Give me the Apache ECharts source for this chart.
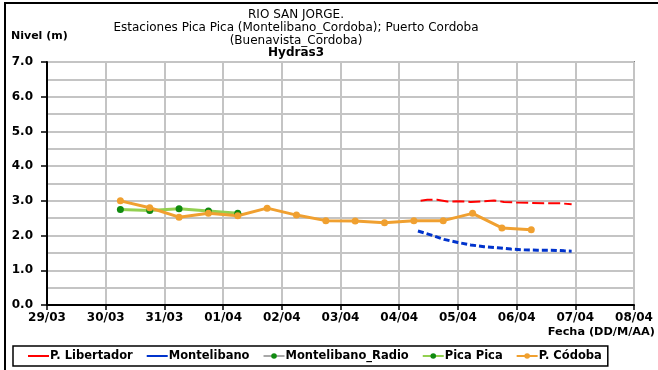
<!DOCTYPE html>
<html>
<head>
<meta charset="utf-8">
<script src="https://cdn.jsdelivr.net/npm/echarts@6/dist/echarts.min.js"></script>
<style>
  html, body { margin: 0; padding: 0; background: #fff; }
  #chart { width: 658px; height: 370px; }
</style>
</head>
<body>
<div id="chart"></div>
<script>
// Daily axis from 29/03 to 08/04
const axisStart = '2014-03-29 00:00';
const axisEnd = '2014-04-08 00:00';

// P. Libertador (red, dashed)
const libertadorTimes = ['2014-04-04 08:45', '2014-04-04 11:30', '2014-04-04 15:30', '2014-04-04 19:40',
  '2014-04-05 00:00', '2014-04-05 05:15', '2014-04-05 10:40', '2014-04-05 14:45', '2014-04-05 18:50',
  '2014-04-06 00:20', '2014-04-06 05:50', '2014-04-06 12:40', '2014-04-06 18:00', '2014-04-06 22:30'];
const libertadorLevels = [3.00, 3.03, 3.03, 2.98, 2.99, 2.97, 2.99, 3.01, 2.97, 2.95, 2.94, 2.93, 2.93, 2.90];

// Montelibano (blue, heavy dashes)
const montelibanoTimes = ['2014-04-04 07:40', '2014-04-04 12:50', '2014-04-04 18:20', '2014-04-05 00:00',
  '2014-04-05 05:15', '2014-04-05 10:40', '2014-04-05 16:10', '2014-04-05 21:40', '2014-04-06 03:00',
  '2014-04-06 08:30', '2014-04-06 14:00', '2014-04-06 19:30', '2014-04-06 22:30'];
const montelibanoLevels = [2.13, 2.02, 1.89, 1.80, 1.73, 1.68, 1.65, 1.61, 1.59, 1.58, 1.58, 1.56, 1.55];

// Montelibano_Radio (no readings in this period)
const radioTimes = [];
const radioLevels = [];

// Pica Pica
const picaTimes = ['2014-03-30 06:00', '2014-03-30 18:00', '2014-03-31 06:00', '2014-03-31 18:00', '2014-04-01 06:00'];
const picaLevels = [2.75, 2.72, 2.77, 2.71, 2.64];

// P. Córdoba
const cordobaTimes = ['2014-03-30 06:00', '2014-03-30 18:00', '2014-03-31 06:00', '2014-03-31 18:00',
  '2014-04-01 06:00', '2014-04-01 18:00', '2014-04-02 06:00', '2014-04-02 18:00', '2014-04-03 06:00',
  '2014-04-03 18:00', '2014-04-04 06:00', '2014-04-04 18:00', '2014-04-05 06:00', '2014-04-05 18:00',
  '2014-04-06 06:00'];
const cordobaLevels = [3.00, 2.80, 2.53, 2.64, 2.57, 2.79, 2.59, 2.43, 2.42, 2.37, 2.43, 2.43, 2.64, 2.22, 2.17];

const DAY = 86400000;
function toMs(s) {
  const [d, t] = s.split(' ');
  const [y, m, dd] = d.split('-').map(Number);
  const [hh, mm] = t.split(':').map(Number);
  return Date.UTC(y, m - 1, dd, hh, mm);
}
function pairs(times, vals) { return times.map((t, i) => [toMs(t), vals[i]]); }
function pad(n) { return (n < 10 ? '0' : '') + n; }

const FONT = '"DejaVu Sans", Verdana, sans-serif';
const chart = echarts.init(document.getElementById('chart'), null, { renderer: 'canvas' });

function titleText(text, top, bold) {
  return { text, left: 296, top, textAlign: 'center', padding: 0,
    textStyle: { fontFamily: FONT, fontSize: 12, fontWeight: bold ? 'bold' : 'normal', color: '#000' } };
}

chart.setOption({
  animation: false,
  backgroundColor: '#ffffff',
  title: [
    titleText('RIO SAN JORGE.', 9, false),
    titleText('Estaciones Pica Pica (Montelibano_Cordoba); Puerto Cordoba', 22, false),
    titleText('(Buenavista_Cordoba)', 35, false),
    titleText('Hydras3', 47, true),
    { text: 'Nivel (m)', left: 11, top: 31, padding: 0,
      textStyle: { fontFamily: FONT, fontSize: 11, fontWeight: 'bold', color: '#000' } },
    { text: 'Fecha (DD/M/AA)', right: 3, top: 327, padding: 0,
      textStyle: { fontFamily: FONT, fontSize: 11.3, fontWeight: 'bold', color: '#000' } }
  ],
  graphic: [
    { type: 'rect', shape: { x: 5, y: 3, width: 700, height: 420 },
      style: { fill: 'none', stroke: '#000', lineWidth: 2 }, silent: true }
  ],
  legend: {
    left: 13, top: 346,
    padding: [4, 6, 4, 14],
    borderColor: '#000', borderWidth: 1.5,
    itemWidth: 21, itemHeight: 7, itemGap: 13,
    textStyle: { fontFamily: FONT, fontSize: 11.5, fontWeight: 'bold', color: '#000', padding: [0, 0, 0, -4] },
    data: [
      { name: 'P. Libertador', itemStyle: { opacity: 0 }, lineStyle: { type: 'solid' } },
      { name: 'Montelibano', itemStyle: { opacity: 0 }, lineStyle: { type: 'solid' } },
      'Montelibano_Radio', 'Pica Pica', 'P. Códoba'
    ]
  },
  grid: {
    left: 47, right: 24, top: 62, bottom: 65,
    show: true, borderColor: '#808080', borderWidth: 2
  },
  xAxis: {
    type: 'value',
    min: toMs(axisStart), max: toMs(axisEnd), interval: DAY,
    axisLine: { lineStyle: { color: '#000', width: 2 } },
    axisTick: { show: true, length: 5, lineStyle: { color: '#000', width: 1.5 } },
    axisLabel: {
      fontFamily: FONT, fontSize: 12, fontWeight: 'bold', color: '#000', margin: 7,
      formatter: v => { const d = new Date(v); return pad(d.getUTCDate()) + '/' + pad(d.getUTCMonth() + 1); }
    },
    splitLine: { show: true, lineStyle: { color: '#c4c4c4', width: 2 } }
  },
  yAxis: {
    type: 'value', min: 0, max: 7, interval: 1,
    axisLine: { show: true, lineStyle: { color: '#000', width: 2 } },
    axisTick: { show: true, length: 6, lineStyle: { color: '#000', width: 1.5 } },
    axisLabel: { fontFamily: FONT, fontSize: 12, fontWeight: 'bold', color: '#000', margin: 14,
      formatter: v => v.toFixed(1) },
    splitLine: { show: true, lineStyle: { color: '#c4c4c4', width: 2 } },
    minorTick: { show: false, splitNumber: 2 },
    minorSplitLine: { show: true, lineStyle: { color: '#c4c4c4', width: 2 } }
  },
  series: [
    { name: 'P. Libertador', type: 'line', data: pairs(libertadorTimes, libertadorLevels),
      symbol: 'none', color: '#ff0000',
      lineStyle: { color: '#ff0000', width: 2, type: [12, 4] } },
    { name: 'Montelibano', type: 'line', data: pairs(montelibanoTimes, montelibanoLevels),
      symbol: 'none', color: '#0033cc',
      lineStyle: { color: '#0033cc', width: 3, type: [6, 3] } },
    { name: 'Montelibano_Radio', type: 'line', data: pairs(radioTimes, radioLevels),
      symbol: 'circle', symbolSize: 6,
      itemStyle: { color: '#108a10' }, lineStyle: { color: '#a8a8a8', width: 3 } },
    { name: 'Pica Pica', type: 'line', data: pairs(picaTimes, picaLevels),
      symbol: 'circle', symbolSize: 7,
      itemStyle: { color: '#108a10' }, lineStyle: { color: '#92d050', width: 3 } },
    { name: 'P. Códoba', type: 'line', data: pairs(cordobaTimes, cordobaLevels),
      symbol: 'circle', symbolSize: 7,
      itemStyle: { color: '#f0a030' }, lineStyle: { color: '#f0a030', width: 3 } }
  ]
});
</script>
</body>
</html>
